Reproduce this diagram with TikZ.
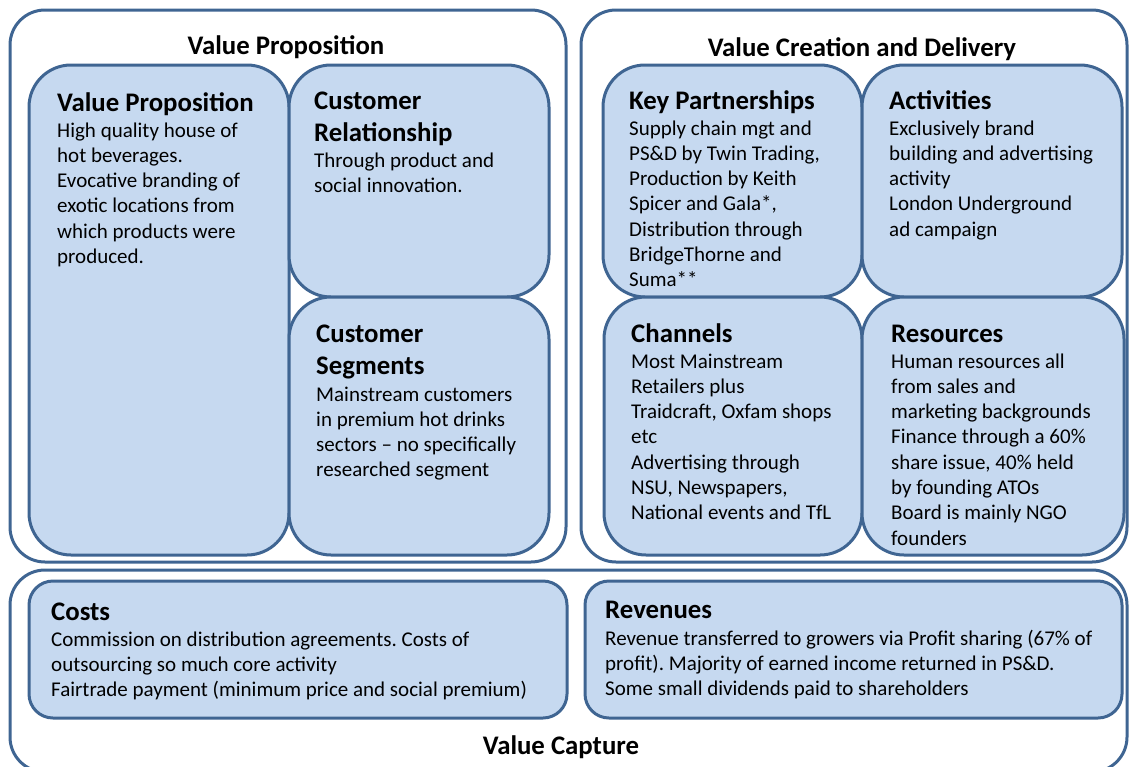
\documentclass[tikz,border=0pt]{standalone}
\usepackage{fontspec}
\setmainfont{Carlito}
\frenchspacing
\definecolor{bfill}{HTML}{C6D9F0}
\definecolor{bline}{HTML}{3F6592}
\newcommand\tb[1]{\parbox[t]{560pt}{\raggedright\frenchspacing #1}}
\begin{document}
\begin{tikzpicture}[x=1pt,y=-1pt,
 outerbox/.style={draw=bline, line width=3pt, fill=white, rounded corners=35pt, anchor=north west, inner sep=0pt, outer sep=0pt},
 innerbox/.style={draw=bline, line width=3pt, fill=bfill, rounded corners=42pt, anchor=north west, inner sep=0pt, outer sep=0pt},
 flatbox/.style={draw=bline, line width=3pt, fill=bfill, rounded corners=24pt, anchor=north west, inner sep=0pt, outer sep=0pt},
 ttl/.style={anchor=base west, inner sep=0pt, font=\fontsize{26.8}{32}\selectfont\bfseries},
 body/.style={anchor=base west, inner sep=0pt, font=\fontsize{21}{25.3}\selectfont},
 hdr/.style={anchor=base, inner sep=0pt, font=\fontsize{26.8}{32}\selectfont\bfseries}]
\clip (0,0) rectangle (1129,766);
% outer frames
\node[outerbox, minimum width=556pt, minimum height=552pt] (o1) at (10,10) {};
\node[outerbox, minimum width=546pt, minimum height=552pt] (o2) at (581,10) {};
\node[outerbox, minimum width=1117pt, minimum height=202pt] (o3) at (10,570) {};
\node[hdr] (h1) at (286,54) {Value Proposition};
\node[hdr] (h2) at (862,56) {Value Creation and Delivery};
\node[hdr] (h3) at (561,754) {Value Capture};
% inner boxes
\node[innerbox, minimum width=260pt, minimum height=490pt] (vp) at (29,65) {};
\node[innerbox, minimum width=260pt, minimum height=232pt] (cr) at (289,65) {};
\node[innerbox, minimum width=260pt, minimum height=258pt] (cs) at (289,297) {};
\node[innerbox, minimum width=259pt, minimum height=232pt] (kp) at (603,65) {};
\node[innerbox, minimum width=260pt, minimum height=232pt] (ac) at (862,65) {};
\node[innerbox, minimum width=258pt, minimum height=258pt] (ch) at (604,297) {};
\node[innerbox, minimum width=262pt, minimum height=258pt] (rs) at (862,297) {};
\node[flatbox, minimum width=538pt, minimum height=137pt] (co) at (29,581) {};
\node[flatbox, minimum width=537pt, minimum height=137pt] (rv) at (585,581) {};
% texts
\node[ttl] (vpt) at (57,111) {\tb{Value Proposition}};
\node[body] (vpb) at (57,137) {\tb{High quality house of\\hot beverages.\\Evocative branding of\\exotic locations from\\which products were\\produced.}};
\node[ttl] (crt) at (314,109) {\tb{Customer\\Relationship}};
\node[body] (crb) at (314,167) {\tb{Through product and\\social innovation.}};
\node[ttl] (cst) at (316,342) {\tb{Customer\\Segments}};
\node[body] (csb) at (316,401) {\tb{Mainstream customers\\in premium hot drinks\\sectors -- no specifically\\researched segment}};
\node[ttl] (kpt) at (629,109) {\tb{Key Partnerships}};
\node[body] (kpb) at (629,135) {\tb{Supply chain mgt and\\PS\&D by Twin Trading,\\Production by Keith\\Spicer and Gala*,\\Distribution through\\BridgeThorne and\\Suma**}};
\node[ttl] (act) at (889,109) {\tb{Activities}};
\node[body] (acb) at (889,135) {\tb{Exclusively brand\\building and advertising\\activity\\London Underground\\ad campaign}};
\node[ttl] (cht) at (631,342) {\tb{Channels}};
\node[body] (chb) at (631,368) {\tb{Most Mainstream\\Retailers plus\\Traidcraft, Oxfam shops\\etc\\Advertising through\\NSU, Newspapers,\\National events and TfL}};
\node[ttl] (rst) at (891,342) {\tb{Resources}};
\node[body] (rsb) at (891,368) {\tb{Human resources all\\from sales and\\marketing backgrounds\\Finance through a 60\%\\share issue, 40\% held\\by founding ATOs\\Board is mainly NGO\\founders}};
\node[ttl] (cot) at (51,620) {\tb{Costs}};
\node[body] (cob) at (51,646) {\tb{Commission on distribution agreements. Costs of\\outsourcing so much core activity\\Fairtrade payment (minimum price and social premium)}};
\node[ttl] (rvt) at (605,618) {\tb{Revenues}};
\node[body] (rvb) at (605,645) {\tb{Revenue transferred to growers via Profit sharing (67\% of\\profit). Majority of earned income returned in PS\&D.\\Some small dividends paid to shareholders}};
\end{tikzpicture}
\end{document}
